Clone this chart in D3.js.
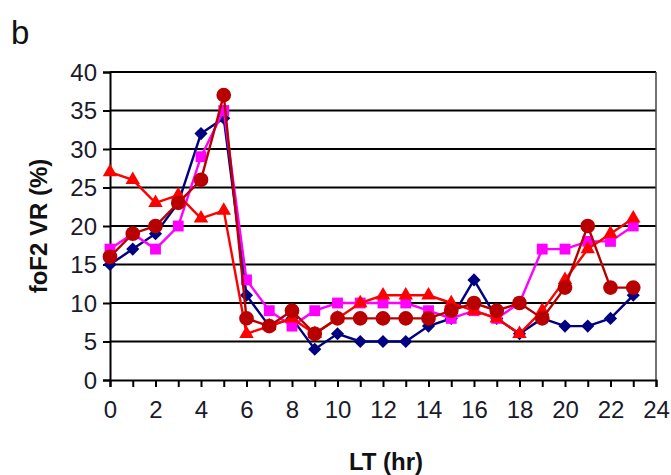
<!DOCTYPE html>
<html>
<head>
<meta charset="utf-8">
<script src="https://cdn.jsdelivr.net/npm/d3@7"></script>
<style>
  html, body { margin: 0; padding: 0; background: #fff; }
  svg { display: block; font-family: "Liberation Sans", Arial, sans-serif; }
</style>
</head>
<body>
<svg id="chart" width="671" height="475"></svg>
<script>
// Local time (hours)
const hours = d3.range(0, 24);

// foF2 variability (%) for each series
const seriesNavy    = [15, 17, 19, 23, 32, 34, 11, 7, 8, 4, 6, 5, 5, 5, 7, 8, 13, 8, 6, 8, 7, 7, 8, 11];
const seriesMagenta = [17, 19, 17, 20, 29, 35, 13, 9, 7, 9, 10, 10, 10, 10, 9, 8, 9, 8, 10, 17, 17, 18, 18, 20];
const seriesRed     = [27, 26, 23, 24, 21, 22, 6, 7, 8, 6, 8, 10, 11, 11, 11, 10, 9, 8, 6, 9, 13, 17, 19, 21];
const seriesDarkRed = [16, 19, 20, 23, 26, 37, 8, 7, 9, 6, 8, 8, 8, 8, 8, 9, 10, 9, 10, 8, 12, 20, 12, 12];

const xTicks = d3.range(0, 25, 2);
const yTicks = d3.range(0, 41, 5);

const svg = d3.select("#chart");
const plotLeft = 110, plotRight = 656, plotTop = 72, plotBottom = 380;
const fontFamily = "Liberation Sans, Arial, sans-serif";

const x = d3.scaleLinear().domain([0, 24]).range([plotLeft, plotRight]);
const y = d3.scaleLinear().domain([0, 40]).range([plotBottom, plotTop]);

// Panel letter
svg.append("text").attr("x", 11).attr("y", 44)
  .attr("font-size", 33).attr("fill", "#111").text("b");

// Horizontal gridlines
svg.append("g").selectAll("line").data(yTicks.filter(d => d > 0)).join("line")
  .attr("x1", plotLeft).attr("x2", plotRight)
  .attr("y1", d => y(d)).attr("y2", d => y(d))
  .attr("stroke", "#000").attr("stroke-width", 2);

// Right frame
svg.append("line").attr("x1", plotRight).attr("x2", plotRight)
  .attr("y1", plotTop).attr("y2", plotBottom)
  .attr("stroke", "#444").attr("stroke-width", 1.5);

// Y axis
const yAxis = svg.append("g").attr("transform", `translate(${plotLeft},0)`)
  .call(d3.axisLeft(y).tickValues(yTicks).tickSize(7).tickPadding(6));
yAxis.select(".domain").attr("stroke", "#000").attr("stroke-width", 2);
yAxis.selectAll(".tick line").attr("stroke", "#000").attr("stroke-width", 2);
yAxis.selectAll(".tick text").attr("font-size", 24).attr("fill", "#1a1a2a")
  .attr("font-family", fontFamily).attr("dy", "0.34em");

// X axis: minor ticks each hour, labels every two hours
const xMinor = svg.append("g").attr("transform", `translate(0,${plotBottom})`)
  .call(d3.axisBottom(x).tickValues(d3.range(0, 25)).tickSize(7).tickFormat(""));
xMinor.select(".domain").attr("stroke", "#000").attr("stroke-width", 2);
xMinor.selectAll(".tick line").attr("stroke", "#000").attr("stroke-width", 2);

const xAxis = svg.append("g").attr("transform", `translate(0,${plotBottom})`)
  .call(d3.axisBottom(x).tickValues(xTicks).tickSize(0).tickPadding(21));
xAxis.select(".domain").remove();
xAxis.selectAll(".tick text").attr("font-size", 24).attr("fill", "#1a1a2a")
  .attr("font-family", fontFamily);

// Axis titles
svg.append("text").attr("x", 386).attr("y", 470)
  .attr("text-anchor", "middle").attr("font-size", 24).attr("font-weight", "bold")
  .attr("fill", "#111").text("LT (hr)");
svg.append("text")
  .attr("transform", `translate(47,${(plotTop + plotBottom) / 2}) rotate(-90)`)
  .attr("text-anchor", "middle").attr("font-size", 24).attr("font-weight", "bold")
  .attr("fill", "#111").text("foF2 VR (%)");

// Series
const series = [
  { values: seriesNavy,    color: "#000080", symbol: d3.symbolDiamond2,  size: 110 },
  { values: seriesMagenta, color: "#FF00FF", symbol: d3.symbolSquare2,   size: 150 },
  { values: seriesRed,     color: "#FF0000", symbol: d3.symbolTriangle2, size: 150 },
  { values: seriesDarkRed, color: "#B80000", symbol: d3.symbolCircle,    size: 170 }
];

const line = d3.line().x((d, i) => x(hours[i])).y(d => y(d));

series.forEach(s => {
  const g = svg.append("g");
  g.append("path").datum(s.values)
    .attr("d", line).attr("fill", "none")
    .attr("stroke", s.color).attr("stroke-width", 2.4);
  const sym = d3.symbol().type(s.symbol).size(s.size);
  g.selectAll("path.pt").data(s.values).join("path")
    .attr("class", "pt")
    .attr("transform", (d, i) => `translate(${x(hours[i])},${y(d)})`)
    .attr("d", sym)
    .attr("fill", s.color).attr("stroke", "none");
});
</script>
</body>
</html>
